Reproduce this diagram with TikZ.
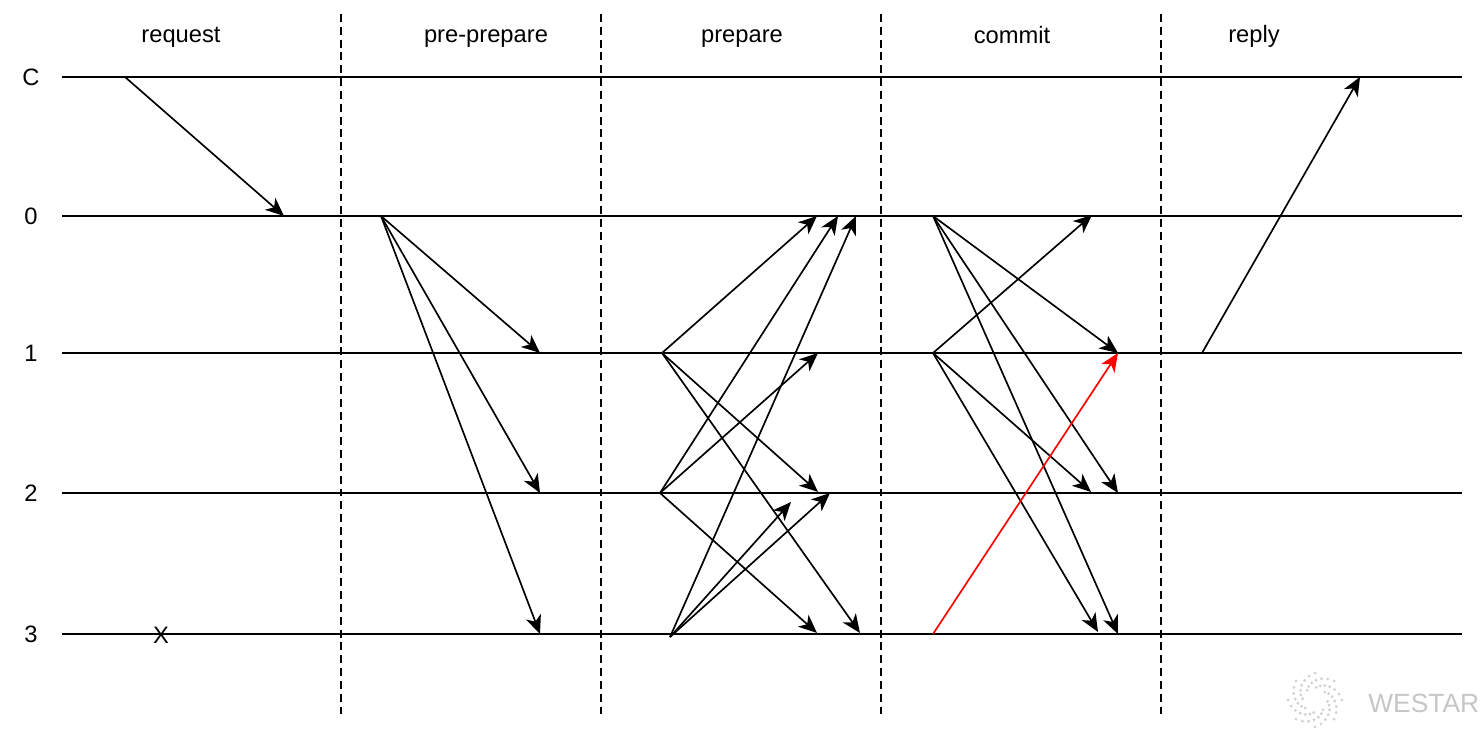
\documentclass[tikz,border=0pt]{standalone}
\usepackage{fontspec}
\setmainfont{Liberation Sans}
\usetikzlibrary{arrows.meta}
\usetikzlibrary{calc}

\tikzset{
  lane/.style={line width=1.15pt, black},
  divider/.style={line width=1.1pt, dash pattern=on 4.5pt off 2.8pt},
  msg/.style={line width=0.95pt, -{Stealth[length=10.5pt,width=9pt,inset=3pt]}},
  phase/.style={anchor=base, inner sep=0pt, font=\fontsize{13.5}{15}\selectfont},
  replica/.style={inner sep=0pt, font=\fontsize{13.5}{15}\selectfont},
}

\begin{document}
\begin{tikzpicture}[x=0.02cm, y=-0.02cm]
        \useasboundingbox (0,0) rectangle (1480,732);

        % phase dividers
        \foreach \x in {341,601,881,1161} {
            \draw[divider] (\x,14) -- (\x,715);
        }

        % phase names
        \node[phase] (lreq) at (181,43) {request};
        \node[phase] (lpp)  at (486,43) {pre-prepare};
        \node[phase] (lpr)  at (742,43) {prepare};
        \node[phase] (lcm)  at (1012,44) {commit};
        \node[phase] (lrp)  at (1254,43) {reply};

        % client and replica lanes
        \foreach \n/\t/\y in {C/C/77, 0/0/216, 1/1/353, 2/2/493, 3/3/634} {
            \node[replica] (name\n) at (31,\y) {\t};
            \coordinate (left\n) at (62,\y);
            \coordinate (right\n) at (1462,\y);
            \draw[lane] (left\n) -- (right\n);
        }

        % replica 3 is faulty
        \node[replica] (fault) at (161,635) {X};

        % message end points
        \foreach \n/\x/\y in {
            rqC/125/77, rq0/284/216,
            pp0/381/216, pp1/540/353, pp2/540/493, pp3/540/634,
            pr1/662/353, pr1a/817/216, pr1b/818/492, pr1c/860/633,
            pr2/660/493, pr2a/838/216, pr2b/818/353, pr2c/817/633,
            pr3/670/637, pr3a/856/216, pr3b/791/502, pr3c/830/493,
            cm0/933/216, cm0a/1118/353, cm0b/1118/493, cm0c/1118/634,
            cm1/933/353, cm1a/1092/215, cm1b/1091/492, cm1c/1098/632,
            cm3/933/634,
            rp1/1202/353, rpC/1360/77} {
            \coordinate (\n) at (\x,\y);
        }

        % messages
        \foreach \a/\b in {rqC/rq0,
            pp0/pp1, pp0/pp2, pp0/pp3,
            pr1/pr1a, pr1/pr1b, pr1/pr1c,
            pr2/pr2a, pr2/pr2b, pr2/pr2c,
            pr3/pr3a, pr3/pr3b, pr3/pr3c,
            cm0/cm0a, cm0/cm0b, cm0/cm0c,
            cm1/cm1a, cm1/cm1b, cm1/cm1c,
            rp1/rpC} {
            \draw[msg] (\a) -- (\b);
        }
        \draw[msg, red] (cm3) -- (cm0a);

        % watermark
        \foreach \a in {0,45,...,315} {
            \foreach \t in {0,...,6} {
                \fill[gray!35] ($(1315,700)+({\a+\t*14}:{(27-\t*2.4)*0.02cm})$) circle (0.9pt);
            }
        }
        \node[anchor=base west, inner sep=0pt, text=gray!45,
              font=\fontsize{15}{17}\selectfont] (mark) at (1368,712) {WESTAR};

    \end{tikzpicture}
\end{document}
